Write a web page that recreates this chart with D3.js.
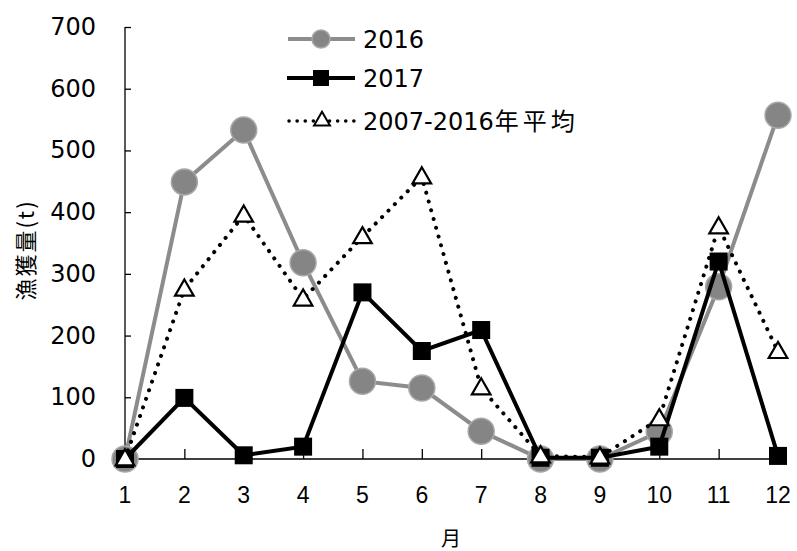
<!DOCTYPE html>
<html>
<head>
<meta charset="utf-8">
<script src="https://cdn.jsdelivr.net/npm/d3@7"></script>
<style>
  body { margin: 0; background: #fff; }
  svg { display: block; }
</style>
</head>
<body>
<svg id="chart" width="797" height="551"></svg>
<script>
const months = [1, 2, 3, 4, 5, 6, 7, 8, 9, 10, 11, 12];
const catch2016 = [0, 449, 533, 318, 126, 115, 45, 0, 0, 44, 279, 557];
const catch2017 = [0, 99, 6, 20, 270, 175, 209, 2, 2, 20, 320, 5];
const catchAvg = [0, 275, 395, 259, 360, 457, 115, 5, 3, 65, 376, 174];
const yTicks = [0, 100, 200, 300, 400, 500, 600, 700];
const seriesNames = ["2016", "2017", "2007-2016"];

const svg = d3.select("#chart");
const x = d3.scaleLinear().domain([1, 12]).range([125, 778]);
const y = d3.scaleLinear().domain([0, 700]).range([459, 27]);

// axes (ticks inside)
const yAxis = svg.append("g").attr("transform", "translate(125,0)")
  .call(d3.axisRight(y).tickValues(yTicks).tickSize(6).tickFormat(""));
yAxis.select(".domain").attr("stroke", "#000").attr("stroke-width", 1.3).attr("d", "M0,27V459");
yAxis.selectAll(".tick line").attr("stroke", "#000").attr("stroke-width", 1.3);

const xAxis = svg.append("g").attr("transform", "translate(0,459)")
  .call(d3.axisTop(x).tickValues(months).tickSize(10).tickFormat(""));
xAxis.select(".domain").attr("stroke", "#000").attr("stroke-width", 1.3).attr("d", "M125,0H778");
xAxis.selectAll(".tick line").attr("stroke", "#000").attr("stroke-width", 1.3);

svg.append("g").selectAll("text").data(yTicks).join("text")
  .attr("x", 96).attr("y", d => y(d) + 8)
  .attr("text-anchor", "end")
  .attr("font-family", "DejaVu Sans").attr("font-size", 24)
  .attr("fill", "#000")
  .text(d => d);

svg.append("g").selectAll("text").data(months).join("text")
  .attr("x", d => x(d)).attr("y", 503)
  .attr("text-anchor", "middle")
  .attr("font-family", "Liberation Sans").attr("font-size", 23)
  .attr("fill", "#000")
  .text(d => d);

svg.append("text")
  .attr("transform", "translate(34,250) rotate(-90)")
  .attr("text-anchor", "middle")
  .attr("font-family", "Noto Sans CJK JP").attr("font-size", 22)
  .attr("letter-spacing", 2).attr("fill", "#000")
  .text("漁獲量(t)");

svg.append("text")
  .attr("x", 451).attr("y", 546)
  .attr("text-anchor", "middle")
  .attr("font-family", "Noto Sans CJK JP").attr("font-size", 20)
  .attr("fill", "#000")
  .text("月");

const line = d3.line().x((d, i) => x(months[i])).y(d => y(d));

// 2016
svg.append("path").datum(catch2016)
  .attr("d", line).attr("fill", "none")
  .attr("stroke", "#8c8c8c").attr("stroke-width", 4);
svg.append("g").selectAll("circle").data(catch2016).join("circle")
  .attr("cx", (d, i) => x(months[i])).attr("cy", d => y(d)).attr("r", 13)
  .attr("fill", "#858585").attr("stroke", "#a8a8a8").attr("stroke-width", 1.5);

// 2017
svg.append("path").datum(catch2017)
  .attr("d", line).attr("fill", "none")
  .attr("stroke", "#000").attr("stroke-width", 4);
svg.append("g").selectAll("rect").data(catch2017).join("rect")
  .attr("x", (d, i) => x(months[i]) - 9).attr("y", d => y(d) - 9)
  .attr("width", 18).attr("height", 18).attr("fill", "#000");

// average
const tri = d3.symbol().type(d3.symbolTriangle).size(150);
svg.append("path").datum(catchAvg)
  .attr("d", line).attr("fill", "none")
  .attr("stroke", "#000").attr("stroke-width", 4)
  .attr("stroke-linecap", "round").attr("stroke-dasharray", "0.1 9");
svg.append("g").selectAll("path").data(catchAvg).join("path")
  .attr("d", tri)
  .attr("transform", (d, i) => `translate(${x(months[i])},${y(d) + 1})`)
  .attr("fill", "#fff").attr("stroke", "#000").attr("stroke-width", 2.2);

// legend
const legend = svg.append("g");
const legY = [39, 78, 121];
legend.append("line").attr("x1", 288).attr("x2", 355).attr("y1", legY[0]).attr("y2", legY[0])
  .attr("stroke", "#8c8c8c").attr("stroke-width", 4);
legend.append("circle").attr("cx", 321).attr("cy", legY[0]).attr("r", 9)
  .attr("fill", "#858585").attr("stroke", "#a8a8a8").attr("stroke-width", 1.5);
legend.append("line").attr("x1", 287).attr("x2", 355).attr("y1", legY[1]).attr("y2", legY[1])
  .attr("stroke", "#000").attr("stroke-width", 4);
legend.append("rect").attr("x", 313).attr("y", legY[1] - 8).attr("width", 16).attr("height", 16)
  .attr("fill", "#000");
legend.append("line").attr("x1", 289).attr("x2", 356).attr("y1", legY[2]).attr("y2", legY[2])
  .attr("stroke", "#000").attr("stroke-width", 3.5)
  .attr("stroke-linecap", "round").attr("stroke-dasharray", "0.1 8");
legend.append("path").attr("d", d3.symbol().type(d3.symbolTriangle).size(110))
  .attr("transform", `translate(322,${legY[2]})`)
  .attr("fill", "#fff").attr("stroke", "#000").attr("stroke-width", 2);
const legText = legend.selectAll("text").data(seriesNames).join("text")
  .attr("x", 363).attr("y", (d, i) => legY[i] + 9)
  .attr("font-family", "DejaVu Sans").attr("font-size", 24)
  .attr("fill", "#000")
  .text(d => d);
legText.filter((d, i) => i === 2).append("tspan")
  .attr("font-family", "Noto Sans CJK JP").attr("font-size", 24)
  .attr("letter-spacing", 4).attr("dx", 1)
  .text("年平均");
</script>
</body>
</html>
